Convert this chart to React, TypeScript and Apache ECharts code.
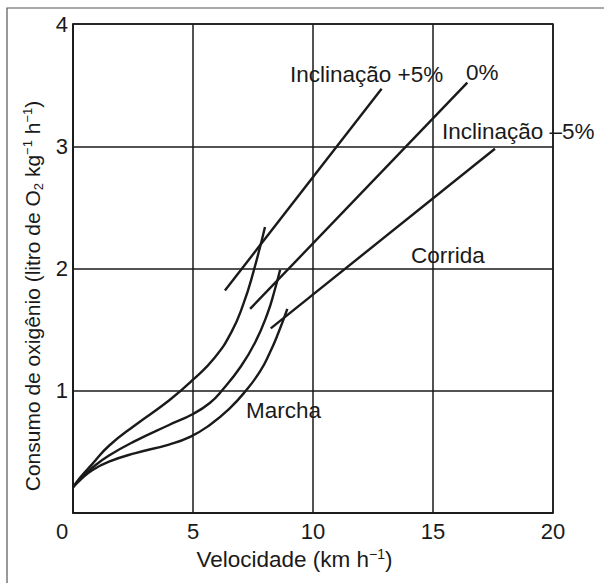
import React, { useEffect, useRef } from "react";
import * as echarts from "echarts";

// Walking (Marcha) curves: [speed km/h, O2 consumption]
const walkPlus5: [number, number][] = [
  [0, 0.21], [0.3, 0.29], [0.8, 0.4], [1.5, 0.55], [2.6, 0.72], [4.0, 0.92], [5.0, 1.09],
  [5.9, 1.27], [6.6, 1.48], [7.1, 1.71], [7.5, 1.96], [8.0, 2.34],
];
const walkZero: [number, number][] = [
  [0, 0.21], [0.3, 0.28], [0.8, 0.37], [1.5, 0.47], [2.6, 0.59], [4.0, 0.72], [5.0, 0.81],
  [5.7, 0.9], [6.2, 1.0], [7.0, 1.2], [7.6, 1.4], [8.1, 1.63], [8.4, 1.82], [8.63, 1.99],
];
const walkMinus5: [number, number][] = [
  [0, 0.21], [0.3, 0.27], [0.8, 0.35], [1.5, 0.42], [2.6, 0.49], [4.0, 0.56], [4.9, 0.625],
  [5.7, 0.72], [6.5, 0.85], [7.2, 1.0], [7.8, 1.16], [8.2, 1.31], [8.55, 1.47], [8.93, 1.67],
];
// Running (Corrida) lines
const runPlus5: [number, number][] = [[6.33, 1.82], [12.86, 3.47]];
const runZero: [number, number][] = [[7.38, 1.67], [16.43, 3.52]];
const runMinus5: [number, number][] = [[8.24, 1.51], [17.58, 2.98]];

const xTicks = [0, 5, 10, 15, 20];
const yTicks = [0, 1, 2, 3, 4];

const annotations = [
  { text: "Inclinação +5%", x: 290, y: 74 },
  { text: "0%", x: 466, y: 72 },
  { text: "Inclinação –5%", x: 442, y: 131 },
  { text: "Corrida", x: 411, y: 255 },
  { text: "Marcha", x: 246, y: 410 },
];

const FONT = "'Liberation Sans', Arial, Helvetica, sans-serif";
const FS = 22.5;
const FS_TICK = 22;
const FS_Y = 21;
const INK = "#1a1a1a";

export default function App() {
  const ref = useRef<HTMLDivElement>(null);
  useEffect(() => {
    if (!ref.current) return;
    const chart = echarts.init(ref.current, null, { renderer: "svg" });
    const lineStyle = { color: INK, width: 2.4 };
    const mk = (name: string, data: [number, number][], smooth: number | boolean) => ({
      type: "line" as const,
      name,
      data,
      smooth,
      symbol: "none",
      lineStyle,
      itemStyle: { color: INK },
      z: 3,
    });
    chart.setOption({
      animation: false,
      backgroundColor: "#ffffff",
      textStyle: { fontFamily: FONT },
      grid: {
        left: 73,
        top: 24,
        right: 51,
        bottom: 70,
        show: true,
        borderColor: INK,
        borderWidth: 1.5,
      },
      xAxis: {
        type: "value",
        min: xTicks[0],
        max: xTicks[xTicks.length - 1],
        interval: 5,
        name: "{n|Velocidade (km h}{s|−1}{n|)}",
        nameLocation: "middle",
        nameGap: 33,
        nameTextStyle: {
          padding: [0, 37, 0, 0],
          rich: {
            n: { fontSize: FS, color: INK, fontFamily: FONT, lineHeight: 25 },
            s: { fontSize: 14, color: INK, fontFamily: FONT, verticalAlign: "top", lineHeight: 14 },
          },
        },
        axisLine: { show: true, lineStyle: { color: INK, width: 1.5 } },
        axisTick: { show: false },
        splitLine: { show: true, lineStyle: { color: INK, width: 1.5 } },
        axisLabel: {
          fontSize: FS_TICK,
          color: INK,
          fontFamily: FONT,
          margin: 7,
          formatter: (v: number) => (v === 0 ? "{z|0}" : String(v)),
          rich: {
            z: { fontSize: FS_TICK, color: INK, fontFamily: FONT, padding: [0, 22, 0, 0] },
          },
        },
      },
      yAxis: {
        type: "value",
        min: yTicks[0],
        max: yTicks[yTicks.length - 1],
        interval: 1,
        name:
          "{n|Consumo de oxigênio (litro de O}{b|2}{n| kg}{s|−1}{n| h}{s|−1}{n|)}",
        nameLocation: "middle",
        nameGap: 28,
        nameTextStyle: {
          padding: [0, 55, 0, 0],
          rich: {
            n: { fontSize: FS_Y, color: INK, fontFamily: FONT, lineHeight: 24 },
            s: { fontSize: 13, color: INK, fontFamily: FONT, verticalAlign: "top", lineHeight: 14 },
            b: { fontSize: 13, color: INK, fontFamily: FONT, verticalAlign: "bottom", lineHeight: 14 },
          },
        },
        axisLine: { show: true, lineStyle: { color: INK, width: 1.5 } },
        axisTick: { show: false },
        splitLine: { show: true, lineStyle: { color: INK, width: 1.5 } },
        axisLabel: {
          fontSize: FS_TICK,
          color: INK,
          fontFamily: FONT,
          margin: 5,
          formatter: (v: number) => (v === 0 ? "" : String(v)),
        },
      },
      series: [
        mk("Marcha +5%", walkPlus5, 0.5),
        mk("Marcha 0%", walkZero, 0.5),
        mk("Marcha -5%", walkMinus5, 0.5),
        mk("Corrida +5%", runPlus5, false),
        mk("Corrida 0%", runZero, false),
        mk("Corrida -5%", runMinus5, false),
      ],
      graphic: [
        {
          type: "rect",
          shape: { x: 7, y: 8, width: 900, height: 900 },
          style: { fill: "none", stroke: "#555555", lineWidth: 1.2 },
          silent: true,
          z: -10,
        },
        ...annotations.map((a) => ({
          type: "text",
          x: a.x,
          y: a.y,
          style: {
            text: a.text,
            fontSize: FS,
            fontFamily: FONT,
            fill: INK,
            textVerticalAlign: "middle",
            verticalAlign: "middle",
          },
          z: 10,
        })),
      ],
    });
    return () => chart.dispose();
  }, []);
  return (
    <div
      ref={ref}
      style={{ position: "fixed", left: 0, top: 0, width: 604, height: 583 }}
    />
  );
}
